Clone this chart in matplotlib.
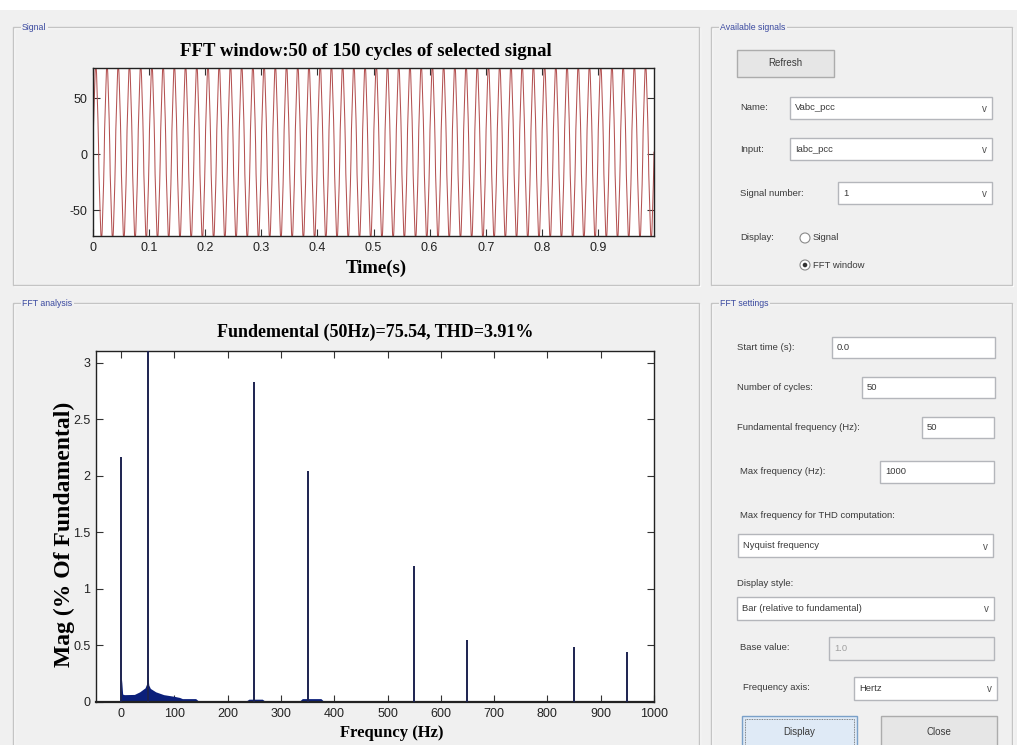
import numpy as np
import matplotlib
matplotlib.use('Agg')
import matplotlib.pyplot as plt
from matplotlib.patches import Rectangle, Circle

W, H = 1017, 745
DPI = 100

# ---- data ----
FUND_FREQ = 50
FUND_AMP = 75.54
THD_PCT = 3.91
N_CYCLES = 50
TOTAL_CYCLES = 150

# harmonic spikes of the spectrum (% of fundamental)
HARM_FREQ = [0, 50, 250, 350, 550, 650, 850, 950]
HARM_MAG = [2.17, 100.0, 2.83, 2.04, 1.20, 0.55, 0.49, 0.44]

# low-level (interharmonic) floor of the bar spectrum
NOISE_FREQ = [0, 1, 3, 6, 25, 35, 45, 48, 50, 52, 55, 65, 80, 100, 110, 115, 140, 145,
              235, 240, 265, 270, 335, 340, 375, 380, 440, 445, 1000]
NOISE_MAG = [0.0, 0.20, 0.07, 0.065, 0.067, 0.09, 0.125, 0.16, 0.24, 0.15, 0.12, 0.09, 0.065,
             0.05, 0.04, 0.03, 0.03, 0.01, 0.01, 0.025, 0.025, 0.008, 0.008, 0.03, 0.03,
             0.008, 0.008, 0.004, 0.004]

T_TICKS = [0, 0.1, 0.2, 0.3, 0.4, 0.5, 0.6, 0.7, 0.8, 0.9]
T_TICK_LABELS = ['0', '0.1', '0.2', '0.3', '0.4', '0.5', '0.6', '0.7', '0.8', '0.9']
SIG_TICKS = [-50, 0, 50]
F_TICKS = [0, 100, 200, 300, 400, 500, 600, 700, 800, 900, 1000]
MAG_TICKS = [0, 0.5, 1, 1.5, 2, 2.5, 3]
MAG_TICK_LABELS = ['0', '0.5', '1', '1.5', '2', '2.5', '3']

GUI_BG = "#f0f0f0"
PANEL_BLUE = "#3b4aa0"
LABEL = "#3a3a3a"
SIG_RED = "#b45252"
NAVY = "#0b1f7a"
SPIKE = "#1c2350"
NARROW = ['Liberation Sans Narrow', 'Liberation Sans', 'DejaVu Sans']
SERIF = ['Liberation Serif', 'DejaVu Serif']

fig = plt.figure(figsize=(W / DPI, H / DPI), dpi=DPI, facecolor=GUI_BG)

# full-figure overlay in pixel coordinates for the GUI chrome
bg = fig.add_axes([0, 0, 1, 1], zorder=0)
bg.set_xlim(0, W)
bg.set_ylim(H, 0)
bg.axis("off")
bg.add_patch(Rectangle((0, 0), W, 10, facecolor="white", edgecolor="none"))


def px_axes(left, top, right, bottom):
    return fig.add_axes([left / W, 1 - bottom / H, (right - left) / W, (bottom - top) / H], zorder=2)


def panel(x0, y0, x1, y1, title):
    bg.add_patch(Rectangle((x0 + 1, y0 + 1), x1 - x0, y1 - y0, fill=False, edgecolor="white", lw=1))
    bg.add_patch(Rectangle((x0, y0), x1 - x0, y1 - y0, fill=False, edgecolor="#c4c4c4", lw=1))
    bg.text(x0 + 9, y0, title, fontsize=6.3, color=PANEL_BLUE, family=NARROW, ha="left", va="center",
            bbox=dict(facecolor=GUI_BG, edgecolor="none", pad=1.0))


def label(x, y, text, color=LABEL):
    bg.text(x, y, text, fontsize=6.8, color=color, family=NARROW, ha="left", va="center")


def textbox(x0, y0, x1, y1, text, disabled=False):
    bg.add_patch(Rectangle((x0, y0), x1 - x0, y1 - y0, facecolor=GUI_BG if disabled else "white",
                           edgecolor="#b4b6bb", lw=1))
    bg.text(x0 + 5, (y0 + y1) / 2, text, fontsize=6.8, color="#a0a0a0" if disabled else LABEL,
            family=NARROW, ha="left", va="center")


def dropdown(x0, y0, x1, y1, text):
    textbox(x0, y0, x1, y1, text)
    bg.text(x1 - 8, (y0 + y1) / 2 + 1, "v", fontsize=7, color="#505050", family=NARROW,
            ha="center", va="center")


def button(x0, y0, x1, y1, text, focus=False):
    bg.add_patch(Rectangle((x0, y0), x1 - x0, y1 - y0, facecolor="#dfeaf6" if focus else "#e6e6e6",
                           edgecolor="#7aa0c8" if focus else "#acacac", lw=1))
    if focus:
        bg.add_patch(Rectangle((x0 + 3, y0 + 3), x1 - x0 - 6, y1 - y0 - 6, fill=False,
                               edgecolor="#606060", lw=0.6, linestyle=(0, (1, 1))))
    bg.text((x0 + x1) / 2, (y0 + y1) / 2, text, fontsize=7, color=LABEL, family=NARROW,
            ha="center", va="center")


def radio(x, y, text, on=False):
    bg.add_patch(Circle((x, y), 5, facecolor="white", edgecolor="#8a8a8a", lw=0.8))
    if on:
        bg.add_patch(Circle((x, y), 2.3, facecolor="#333333", edgecolor="none"))
    label(x + 8, y, text)


# ---- panels ----
panel(13, 27, 699, 285, "Signal")
panel(13, 303, 699, 760, "FFT analysis")
panel(711, 27, 1012, 285, "Available signals")
panel(711, 303, 1012, 760, "FFT settings")

# Available signals widgets
button(737, 50, 834, 77, "Refresh")
label(740, 108, "Name:")
dropdown(790, 97, 992, 119, "Vabc_pcc")
label(740, 149, "Input:")
dropdown(790, 138, 992, 160, "Iabc_pcc")
label(740, 193, "Signal number:")
dropdown(838, 182, 992, 204, "1")
label(740, 238, "Display:")
radio(805, 238, "Signal")
radio(805, 265, "FFT window", on=True)

# FFT settings widgets
label(737, 347, "Start time (s):")
textbox(832, 337, 995, 358, "0.0")
label(737, 387, "Number of cycles:")
textbox(862, 377, 995, 398, str(N_CYCLES))
label(737, 427, "Fundamental frequency (Hz):")
textbox(922, 417, 994, 438, str(FUND_FREQ))
label(740, 471, "Max frequency (Hz):")
textbox(880, 461, 994, 483, "1000")
label(740, 516, "Max frequency for THD computation:")
dropdown(738, 534, 993, 557, "Nyquist frequency")
label(737, 583, "Display style:")
dropdown(737, 597, 994, 620, "Bar (relative to fundamental)")
label(740, 648, "Base value:")
textbox(829, 637, 994, 660, "1.0", disabled=True)
label(743, 688, "Frequency axis:")
dropdown(854, 677, 997, 700, "Hertz")
button(742, 716, 857, 748, "Display", focus=True)
button(881, 716, 997, 748, "Close")


def matlab_axes(ax):
    ax.set_facecolor("white")
    for s in ax.spines.values():
        s.set_linewidth(1.0)
        s.set_color("#222222")
    ax.tick_params(direction="in", top=True, right=True, length=5, width=0.8, color="#333333",
                   labelsize=9, pad=4, labelcolor="#222222")
    for lab in ax.get_xticklabels() + ax.get_yticklabels():
        lab.set_family(NARROW)


# ---- signal window ----
t = np.linspace(0, N_CYCLES / FUND_FREQ, 6001)
sig = np.zeros_like(t)
for f, m in zip(HARM_FREQ, HARM_MAG):
    amp = FUND_AMP * m / 100
    sig += amp if f == 0 else amp * np.sin(2 * np.pi * f * t)

ax1 = px_axes(93, 68, 654, 236)
ax1.plot(t, sig, color=SIG_RED, lw=0.75)
ax1.set_xlim(0, 1.0)
ax1.set_ylim(-73.2, 76.8)
ax1.set_xticks(T_TICKS)
ax1.set_xticklabels(T_TICK_LABELS)
ax1.set_yticks(SIG_TICKS)
ax1.set_yticklabels([str(v) for v in SIG_TICKS])
matlab_axes(ax1)
bg.text(366, 51, f"FFT window:{N_CYCLES} of {TOTAL_CYCLES} cycles of selected signal",
        fontsize=13.5, fontweight="bold", family=SERIF, ha="center", va="center", color="black")
bg.text(376, 268, "Time(s)", fontsize=13.5, fontweight="bold", family=SERIF,
        ha="center", va="center", color="black")

# ---- FFT spectrum ----
ax2 = px_axes(96, 351, 654, 702)
ax2.fill_between(NOISE_FREQ, NOISE_MAG, 0, color=NAVY, lw=0, zorder=2)
ax2.vlines(HARM_FREQ, 0, HARM_MAG, color=SPIKE, lw=1.4, zorder=3)
ax2.set_xlim(-47, 1000)
ax2.set_ylim(0, 3.106)
ax2.set_xticks(F_TICKS)
ax2.set_xticklabels([str(v) for v in F_TICKS])
ax2.set_yticks(MAG_TICKS)
ax2.set_yticklabels(MAG_TICK_LABELS)
matlab_axes(ax2)
ax2.spines["bottom"].set_linewidth(1.6)
bg.text(375, 332, f"Fundemental ({FUND_FREQ}Hz)={FUND_AMP:.2f}, THD={THD_PCT:.2f}%",
        fontsize=13, fontweight="bold", family=SERIF, ha="center", va="center", color="black")
bg.text(392, 733, "Frequncy (Hz)", fontsize=12, fontweight="bold", family=SERIF,
        ha="center", va="center", color="black")
bg.text(64, 534, "Mag (% Of Fundamental)", fontsize=17, fontweight="bold", family=SERIF,
        rotation=90, ha="center", va="center", color="black")

fig.savefig("out.png", dpi=DPI, facecolor=GUI_BG)
